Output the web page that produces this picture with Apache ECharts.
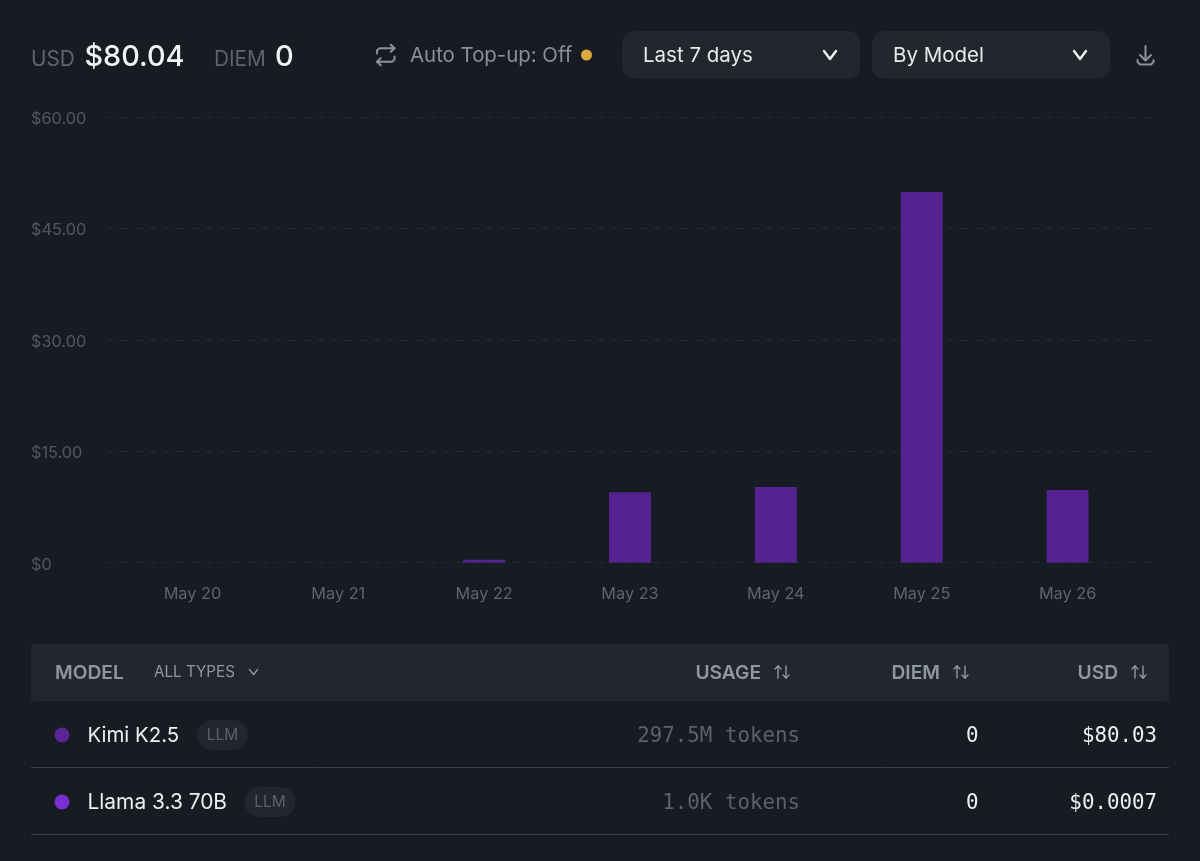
<!DOCTYPE html>
<html>
<head>
<meta charset="utf-8">
<style>html,body{margin:0;padding:0;background:#171b22}#c{width:1200px;height:861px}</style>
<script src="https://cdn.jsdelivr.net/npm/echarts@6/dist/echarts.min.js"></script>
</head>
<body>
<div id="c"></div>
<script>
const categories = ['May 20','May 21','May 22','May 23','May 24','May 25','May 26'];
const kimiValues = [0,0,0.4,9.5,10.2,49.9,9.8];
const yTicks = [0,15,30,45,60];
const modelNames = ['Kimi K2.5','Llama 3.3 70B'];
const modelTypes = ['LLM','LLM'];
const modelUsage = ['297.5M tokens','1.0K tokens'];
const modelDiem = ['0','0'];
const modelUsd = ['$80.03','$0.0007'];
const modelColors = ['#5b2597','#7a2fd0'];

const UI = 'Inter, "Noto Sans", sans-serif';
const MONO = '"DejaVu Sans Mono", monospace';
const BG = '#171b22', PANEL = '#22262d';

function text(x, y, t, size, color, opts) {
  return {type:'text', x, y, silent:true, style:Object.assign({
    text:t, fontFamily:UI, fontSize:size, fill:color, textVerticalAlign:'middle', textAlign:'left'
  }, opts||{})};
}
function rect(x,y,w,h,r,fill){return {type:'rect',silent:true,shape:{x,y,width:w,height:h,r},style:{fill}};}
function poly(points,stroke,lw){return {type:'polyline',silent:true,shape:{points},style:{stroke,fill:null,lineWidth:lw||2,lineCap:'round',lineJoin:'round'}};}
function chevron(cx,cy,w,h,stroke,lw){return poly([[cx-w,cy-h],[cx,cy+h],[cx+w,cy-h]],stroke,lw);}
function sortIcon(x,y){
  const c='#9aa0ab';
  return [poly([[x,y+6],[x,y-6]],c,1.3),poly([[x-3,y-3],[x,y-6],[x+3,y-3]],c,1.3),
          poly([[x+8,y-6],[x+8,y+6]],c,1.3),poly([[x+5,y+3],[x+8,y+6],[x+11,y+3]],c,1.3)];
}

const g = [];
// header
g.push(text(31,60,'USD',20.8,'#5f646d'));
g.push(text(84.5,57,'$80.04',28.8,'#f2f3f5',{fontWeight:500}));
g.push(text(214,60,'DIEM',20.8,'#5f646d'));
g.push(text(275,57,'0',29,'#f2f3f5',{fontWeight:500}));
// repeat icon
const ic='#8d929b';
g.push(poly([[377,53.5],[377,50.5],[379.5,48.3],[394.5,48.3]],ic,2));
g.push(poly([[390.8,44.8],[394.5,48.3],[390.8,51.8]],ic,2));
g.push(poly([[394.5,56.5],[394.5,59.5],[392,61.7],[377,61.7]],ic,2));
g.push(poly([[380.7,58.2],[377,61.7],[380.7,65.2]],ic,2));
g.push(text(410,56,'Auto Top-up: Off',20.4,'#8b909a'));
g.push({type:'circle',silent:true,shape:{cx:586.5,cy:55,r:5.5},style:{fill:'#dca93f'}});
// selects
g.push(rect(622,31,238,47.5,12,PANEL));
g.push(text(643,56,'Last 7 days',20.5,'#e8e9ec'));
g.push(chevron(830,55,6,4,'#f0f1f3',2.4));
g.push(rect(872,31,238,47.5,12,PANEL));
g.push(text(893,56,'By Model',20.5,'#e8e9ec'));
g.push(chevron(1080,55,6,4,'#f0f1f3',2.4));
// download icon
g.push(poly([[1145.5,46],[1145.5,60]],ic,2));
g.push(poly([[1140,55],[1145.5,60.5],[1151,55]],ic,2));
g.push(poly([[1137.5,60],[1137.5,62],[1140,64.5],[1151,64.5],[1153.5,62],[1153.5,60]],ic,2));
// table header
g.push(rect(31,644,1138,57,2,PANEL));
g.push(text(55,673.5,'MODEL',19.2,'#8f97a5',{fontWeight:600}));
g.push(text(154,672.5,'ALL TYPES',15.2,'#8f97a5'));
g.push(chevron(253.5,672,4,2.5,'#8f97a5',1.4));
g.push(text(761,673.5,'USAGE',19.2,'#8f97a5',{fontWeight:600,textAlign:'right'}));
g.push(...sortIcon(778,672));
g.push(text(940,673.5,'DIEM',19.2,'#8f97a5',{fontWeight:600,textAlign:'right'}));
g.push(...sortIcon(957,672));
g.push(text(1118,673.5,'USD',19.2,'#8f97a5',{fontWeight:600,textAlign:'right'}));
g.push(...sortIcon(1135,672));
// table rows
const rowY=[735,802], badgeX=[197,244.5], lineY=[767.5,834.5];
modelNames.forEach((name,i)=>{
  const y=rowY[i];
  g.push({type:'circle',silent:true,shape:{cx:62,cy:y,r:7.5},style:{fill:modelColors[i]}});
  g.push(text(87.5,y+0.5,name,i===0?20.4:20.9,'#eceef0'));
  g.push(rect(badgeX[i],y-15,51,30,15,'#22262d'));
  g.push(text(badgeX[i]+25.5,y+0.5,modelTypes[i],15.5,'#5c616a',{textAlign:'center'}));
  g.push(text(800,y+1.5,modelUsage[i],20.8,'#5c616a',{fontFamily:MONO,textAlign:'right'}));
  g.push(text(978.5,y+1.5,modelDiem[i],20.8,'#eceef0',{fontFamily:MONO,textAlign:'right'}));
  g.push(text(1157,y+1.5,modelUsd[i],20.8,'#eceef0',{fontFamily:MONO,textAlign:'right'}));
  g.push({type:'line',silent:true,shape:{x1:31,y1:lineY[i],x2:1169,y2:lineY[i]},style:{stroke:'#3c4047',lineWidth:1}});
});

const chart = echarts.init(document.getElementById('c'),null,{renderer:'canvas',width:1200,height:861});
chart.setOption({
  animation:false,
  backgroundColor:BG,
  grid:[
    {left:119.5,width:1021,top:117,height:445.7},
    {left:107,width:1049,top:117,height:445.7}
  ],
  xAxis:[
    {type:'category',gridIndex:0,data:categories,axisLine:{show:false},axisTick:{show:false},
     axisLabel:{color:'#5f646d',fontSize:16.3,fontFamily:UI,margin:23}},
    {type:'category',gridIndex:1,data:categories,show:false}
  ],
  yAxis:[
    {type:'value',gridIndex:0,min:0,max:60,interval:15,show:false},
    {type:'value',gridIndex:1,min:0,max:60,interval:15,
     axisLine:{show:false},axisTick:{show:false},
     axisLabel:{align:'left',margin:76,color:'#53585f',fontFamily:UI,
       formatter:v=>yTicks.includes(v)?'{a|'+(v===0?'$0':'$'+v.toFixed(2))+'}':'',
       rich:{a:{color:'#53585f',fontSize:16.3,fontFamily:UI,padding:[4,0,0,0]}}},
     splitLine:{show:true,lineStyle:{color:'#262a31',type:[7,7],width:1}}}
  ],
  series:[{type:'bar',name:modelNames[0],xAxisIndex:0,yAxisIndex:0,data:kimiValues,barWidth:42,
    itemStyle:{color:'#55228f'},silent:true}],
  graphic:{elements:g}
});
</script>
</body>
</html>
